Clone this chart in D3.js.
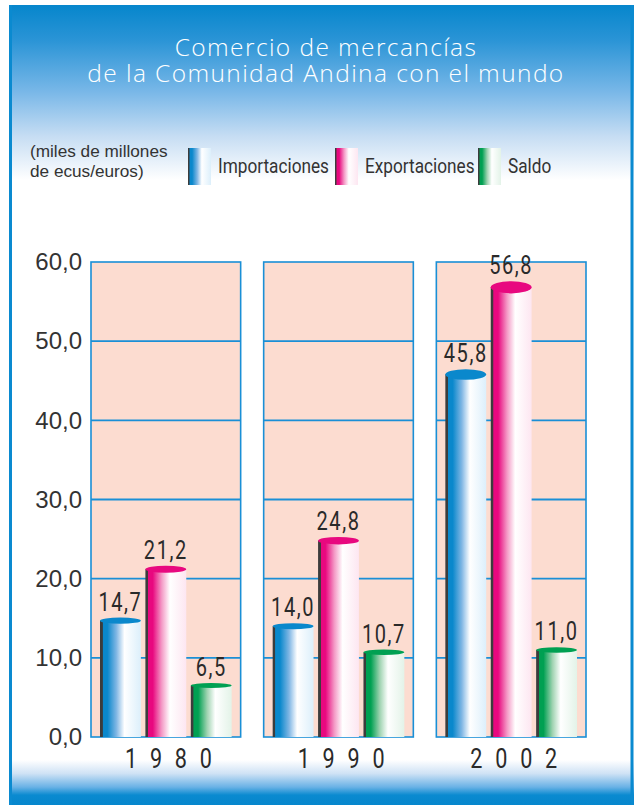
<!DOCTYPE html>
<html>
<head>
<meta charset="utf-8">
<script src="https://cdn.jsdelivr.net/npm/d3@7"></script>
<style>
  body { margin: 0; background: #fff; }
  svg { display: block; }
</style>
</head>
<body>
<div id="chart"></div>
<script>
// data
var years = ["1980", "1990", "2002"];
var seriesNames = ["Importaciones", "Exportaciones", "Saldo"];
var importaciones = [14.7, 14.0, 45.8];
var exportaciones = [21.2, 24.8, 56.8];
var saldo = [6.5, 10.7, 11.0];
var yTicks = [0, 10, 20, 30, 40, 50, 60];

var seriesValues = [importaciones, exportaciones, saldo];
var seriesKeys = ["imp", "exp", "sal"];
var baseColors = { imp: "#0a88cc", exp: "#e8087f", sal: "#00a052" };
var lightColors = { imp: "#dceffb", exp: "#fde6f1", sal: "#e3f3e8" };
var midColors = { imp: "#7fb6e4", exp: "#f49ac6", sal: "#9fd3b1" };

var width = 637, height = 805;
var frameBlue = "#0a8ad0";
var gridBlue = "#1a8fd6";
var narrow = "Roboto, 'DejaVu Sans Condensed', sans-serif";

var svg = d3.select("#chart").append("svg")
    .attr("width", width)
    .attr("height", height);

var defs = svg.append("defs");

// background gradients
var topGrad = defs.append("linearGradient").attr("id", "topGrad")
    .attr("x1", 0).attr("y1", 0).attr("x2", 0).attr("y2", 1);
[[0, "#0686cc"], [0.2, "#2a94d6"], [0.5, "#7ab8e8"], [0.75, "#c6ddf3"], [1, "#ffffff"]]
  .forEach(function(s){ topGrad.append("stop").attr("offset", s[0]).attr("stop-color", s[1]); });

var botGrad = defs.append("linearGradient").attr("id", "botGrad")
    .attr("x1", 0).attr("y1", 0).attr("x2", 0).attr("y2", 1);
[[0, "#ffffff"], [0.3, "#cfe2f5"], [0.6, "#6ab2e6"], [0.78, "#0a8ad0"], [1, "#0686cc"]]
  .forEach(function(s){ botGrad.append("stop").attr("offset", s[0]).attr("stop-color", s[1]); });

// cylinder gradients
seriesKeys.forEach(function(k){
  var g = defs.append("linearGradient").attr("id", "cyl-" + k)
      .attr("x1", 0).attr("y1", 0).attr("x2", 1).attr("y2", 0);
  g.append("stop").attr("offset", 0).attr("stop-color", "#3c3c3c");
  g.append("stop").attr("offset", 0.06).attr("stop-color", "#3c3c3c");
  g.append("stop").attr("offset", 0.07).attr("stop-color", baseColors[k]);
  g.append("stop").attr("offset", 0.18).attr("stop-color", baseColors[k]);
  g.append("stop").attr("offset", 0.4).attr("stop-color", midColors[k]);
  g.append("stop").attr("offset", 0.6).attr("stop-color", "#ffffff");
  g.append("stop").attr("offset", 1).attr("stop-color", lightColors[k]);
});

svg.append("rect").attr("x", 9).attr("y", 5).attr("width", 625).attr("height", 175)
    .attr("fill", "url(#topGrad)");
svg.append("rect").attr("x", 9).attr("y", 760).attr("width", 625).attr("height", 45)
    .attr("fill", "url(#botGrad)");
svg.append("line").attr("x1", 10.5).attr("x2", 10.5).attr("y1", 5).attr("y2", 805)
    .attr("stroke", frameBlue).attr("stroke-width", 3);
svg.append("line").attr("x1", 632).attr("x2", 632).attr("y1", 5).attr("y2", 805)
    .attr("stroke", frameBlue).attr("stroke-width", 3);

// title
var titleStyle = function(t){
  t.attr("text-anchor", "middle")
   .attr("fill", "#fff")
   .style("font-family", "'Open Sans', Roboto, sans-serif")
   .style("font-weight", 300)
   .style("font-size", "24.5px")
   .style("letter-spacing", "1.4px");
};
svg.append("text").call(titleStyle).attr("x", 326).attr("y", 56).text("Comercio de mercancías");
svg.append("text").call(titleStyle).attr("x", 326).attr("y", 82).text("de la Comunidad Andina con el mundo");

// unit note
var note = svg.append("text")
    .attr("fill", "#333")
    .style("font-family", "'Liberation Sans', Arial, sans-serif")
    .style("font-size", "17.2px");
note.append("tspan").attr("x", 30).attr("y", 157).text("(miles de millones");
note.append("tspan").attr("x", 30).attr("y", 177).text("de ecus/euros)");

// legend
var legendX = [188, 335, 478];
var legend = svg.selectAll(".legend").data(seriesKeys).enter().append("g")
    .attr("class", "legend")
    .attr("transform", function(d, i){ return "translate(" + legendX[i] + ",148)"; });
legend.append("rect").attr("width", 23).attr("height", 37)
    .attr("fill", function(d){ return "url(#cyl-" + d + ")"; });
legend.append("text")
    .attr("transform", "translate(30,25) scale(0.82,1)")
    .attr("fill", "#333")
    .style("font-family", narrow)
    .style("font-size", "21px")
    .text(function(d, i){ return seriesNames[i]; });

// scales
var y = d3.scaleLinear().domain([0, 60]).range([737, 262]);
var xOuter = d3.scaleBand().domain(years).range([91, 586]).paddingInner(0.1333);
var xInner = d3.scaleBand().domain(seriesKeys).range([9, xOuter.bandwidth() - 9]).paddingInner(0.1);

// y axis
var fmt = function(v){ return d3.format(".1f")(v).replace(".", ","); };
var yAxis = d3.axisLeft(y).tickValues(yTicks).tickSize(0).tickPadding(0).tickFormat(fmt);
var yG = svg.append("g").attr("transform", "translate(82,0)").call(yAxis);
yG.select(".domain").remove();
yG.selectAll("text")
    .attr("fill", "#333")
    .style("font-family", "'Liberation Sans', Arial, sans-serif")
    .style("font-size", "24px");

// panels
var panels = svg.selectAll(".panel").data(years).enter().append("g")
    .attr("class", "panel")
    .attr("transform", function(d){ return "translate(" + xOuter(d) + ",0)"; });

panels.append("rect")
    .attr("x", 0).attr("y", y(60))
    .attr("width", xOuter.bandwidth()).attr("height", y(0) - y(60))
    .attr("fill", "#fcdcd0")
    .attr("stroke", gridBlue).attr("stroke-width", 1.6);

panels.selectAll(".grid").data(yTicks.slice(1, -1)).enter().append("line")
    .attr("x1", 0).attr("x2", xOuter.bandwidth())
    .attr("y1", function(d){ return y(d); }).attr("y2", function(d){ return y(d); })
    .attr("stroke", gridBlue).attr("stroke-width", 1.8);

// bars
var bars = panels.selectAll(".bar")
    .data(function(d, i){
      return seriesKeys.map(function(k, j){ return { key: k, value: seriesValues[j][i] }; });
    })
    .enter().append("g").attr("class", "bar");

var ryOf = function(v){ return 2 + (y(0) - y(v)) * 0.009; };

bars.append("rect")
    .attr("x", function(d){ return xInner(d.key); })
    .attr("y", function(d){ return y(d.value); })
    .attr("width", xInner.bandwidth())
    .attr("height", function(d){ return y(0) - y(d.value); })
    .attr("fill", function(d){ return "url(#cyl-" + d.key + ")"; });

bars.append("ellipse")
    .attr("cx", function(d){ return xInner(d.key) + xInner.bandwidth() / 2; })
    .attr("cy", function(d){ return y(d.value); })
    .attr("rx", xInner.bandwidth() / 2)
    .attr("ry", function(d){ return ryOf(d.value); })
    .attr("fill", function(d){ return baseColors[d.key]; });

bars.append("text")
    .attr("transform", function(d){
      return "translate(" + (xInner(d.key) + xInner.bandwidth() / 2) + "," +
        (y(d.value) - ryOf(d.value) - 7) + ") scale(0.8,1)";
    })
    .attr("text-anchor", "middle")
    .attr("fill", "#2a2a2a")
    .style("font-family", narrow)
    .style("font-size", "25px")
    .style("letter-spacing", "2px")
    .text(function(d){ return fmt(d.value); });

// year labels
panels.append("text")
    .attr("transform", "translate(" + (xOuter.bandwidth() / 2 + 9) + ",768) scale(0.8,1)")
    .attr("text-anchor", "middle")
    .attr("fill", "#2a2a2a")
    .style("font-family", narrow)
    .style("font-size", "27px")
    .style("letter-spacing", "16px")
    .text(function(d){ return d; });
</script>
</body>
</html>
